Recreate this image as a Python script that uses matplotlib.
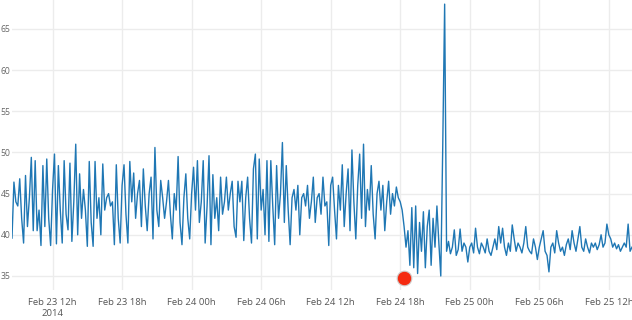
import matplotlib
matplotlib.use("Agg")
import matplotlib.pyplot as plt
import numpy as np
import pandas as pd

# readings every 10 minutes
seg_normal = [
    39.6, 46.4, 44.0, 43.5, 46.8, 42.0, 39.0, 47.2, 41.0, 44.5, 49.4, 40.5,
    49.0, 40.5, 43.0, 38.7, 48.4, 41.0, 49.2, 42.0, 38.7, 45.5, 49.8, 38.9,
    48.4, 43.0, 39.0, 49.0, 42.5, 40.6, 48.7, 39.2, 44.0, 51.0, 40.0, 47.4,
    42.0, 45.5, 43.0, 38.6, 48.9, 41.5, 38.6, 48.9, 42.0, 44.5, 40.0, 48.6,
    43.0, 44.5, 45.0, 43.5, 44.0, 38.8, 48.5, 42.0, 39.0, 46.0, 48.5, 42.5,
    39.0, 48.9, 44.0, 47.5, 42.0, 45.0, 46.6, 41.0, 48.0, 43.5, 40.5, 45.0,
    47.0, 39.5, 50.6, 43.0, 41.0, 46.6, 44.5, 42.0, 44.0, 46.6, 42.5, 39.5,
    45.0, 43.0, 49.5, 41.5, 38.8, 44.5, 47.4, 42.0, 39.5, 45.0, 48.2, 43.0,
    49.0, 41.5, 44.0, 49.0, 39.0, 43.5, 49.6, 38.8, 47.3, 42.0, 44.5, 40.5,
    47.0, 42.5, 44.0, 47.0, 43.0, 45.0, 46.5, 41.0, 39.7, 46.5, 44.0, 46.5,
    39.3, 44.5, 47.0, 42.0, 39.0, 48.0, 49.8, 39.5, 49.2, 43.0, 45.5, 40.0,
    49.0, 39.2, 49.0, 43.5, 38.8, 48.4, 42.0, 45.0, 51.2, 41.5, 48.4, 43.0,
    38.8, 44.5, 45.5, 43.0, 46.0, 40.0, 44.5, 45.0, 43.5, 46.0, 42.0, 44.0,
    47.0, 41.5, 44.5, 45.0, 42.5, 47.0, 43.5, 44.0, 38.7, 46.0, 47.0, 43.0,
    39.5, 46.0, 43.0, 48.5, 41.0, 45.0, 48.0, 40.5, 50.3, 44.0, 39.5, 46.0,
    49.8, 42.0, 51.0, 41.0, 45.5, 43.0, 48.4, 42.5, 39.5, 45.0, 46.5, 43.0,
    46.0, 40.5, 44.0, 46.5, 42.5, 45.0, 43.5, 45.8, 44.5, 44.0,
]
seg_drop = [
    43.0, 41.0, 38.5, 40.5, 36.3, 43.3, 36.0, 43.5, 35.3, 41.5, 38.0,
    42.8, 36.0, 41.0, 43.0, 36.3, 42.0, 38.5, 43.5, 39.0, 35.0,
]
seg_spike = [50.5, 68.0]
seg_after = [
    38.0, 39.2, 37.7, 38.5, 40.6, 37.5, 38.2, 40.7, 38.0, 39.0, 38.5, 36.7,
    38.5, 39.0, 37.8, 40.8, 38.5, 37.7, 39.0, 38.5, 37.8, 39.5, 38.0, 37.5,
    38.5, 39.5, 38.2, 41.0, 39.0, 40.8, 38.5, 37.5, 39.0, 38.0, 41.2, 39.5,
    38.0, 39.0, 38.5, 37.8, 39.0, 41.0, 38.5, 38.0, 37.7, 39.5, 38.5, 37.0,
    38.5, 39.5, 40.5, 38.0, 37.5, 35.5, 38.5, 39.0, 37.8, 40.5, 39.0, 38.0,
    38.5, 37.5, 38.8, 39.5, 38.2, 40.5, 39.0, 38.0, 39.5, 41.0, 38.5, 38.0,
    39.5, 38.5, 37.8, 39.0, 38.5, 39.0, 38.2, 38.8, 40.0, 38.5, 39.0, 41.3,
    40.0, 39.5, 38.5, 39.0, 38.3, 38.8, 38.0, 38.5, 39.0, 38.5, 41.3, 38.0,
    38.5,
]
start_time = "2014-02-23 08:30"

anomaly_time = "2014-02-24 18:20"
anomaly_value = 34.8

tick_times = ["2014-02-23 12:00", "2014-02-23 18:00", "2014-02-24 00:00",
              "2014-02-24 06:00", "2014-02-24 12:00", "2014-02-24 18:00",
              "2014-02-25 00:00", "2014-02-25 06:00", "2014-02-25 12:00"]
tick_labels = ["Feb 23 12h\n2014", "Feb 23 18h", "Feb 24 00h", "Feb 24 06h",
               "Feb 24 12h", "Feb 24 18h", "Feb 25 00h", "Feb 25 06h",
               "Feb 25 12h"]
y_ticks = [35, 40, 45, 50, 55, 60, 65]

values = seg_normal + seg_drop + seg_spike + seg_after
times = pd.date_range(start_time, periods=len(values), freq="10min")

plt.rcParams['font.family'] = ['Open Sans', 'DejaVu Sans']

fig = plt.figure(figsize=(6.32, 3.2), dpi=100)
ax = fig.add_axes([12/632, 30/320, 620/632, 290/320])

ax.plot(times, values, color='#1f77b4', lw=1.0, zorder=3)
ax.plot(pd.Timestamp(anomaly_time), anomaly_value, 'o', ms=10.5,
        color='#f52a10', mec='#cfc8c6', mew=0.8, zorder=4)

ax.set_xlim(times[0], times[-1])
ax.set_ylim(33.3, 68.5)
ax.set_xticks(pd.to_datetime(tick_times))
ax.set_xticklabels(tick_labels)
ax.set_yticks(y_ticks)

for s in ax.spines.values():
    s.set_visible(False)
ax.grid(True, color='#ececec', lw=1.0, zorder=0)
ax.tick_params(length=0, colors='#555555')
ax.tick_params(axis='x', pad=6, labelsize=6.8)
ax.tick_params(axis='y', pad=1, labelsize=6.2, colors='#666666')
for lbl in ax.get_xticklabels():
    lbl.set_linespacing(1.2)

fig.savefig("out.png", dpi=100)
